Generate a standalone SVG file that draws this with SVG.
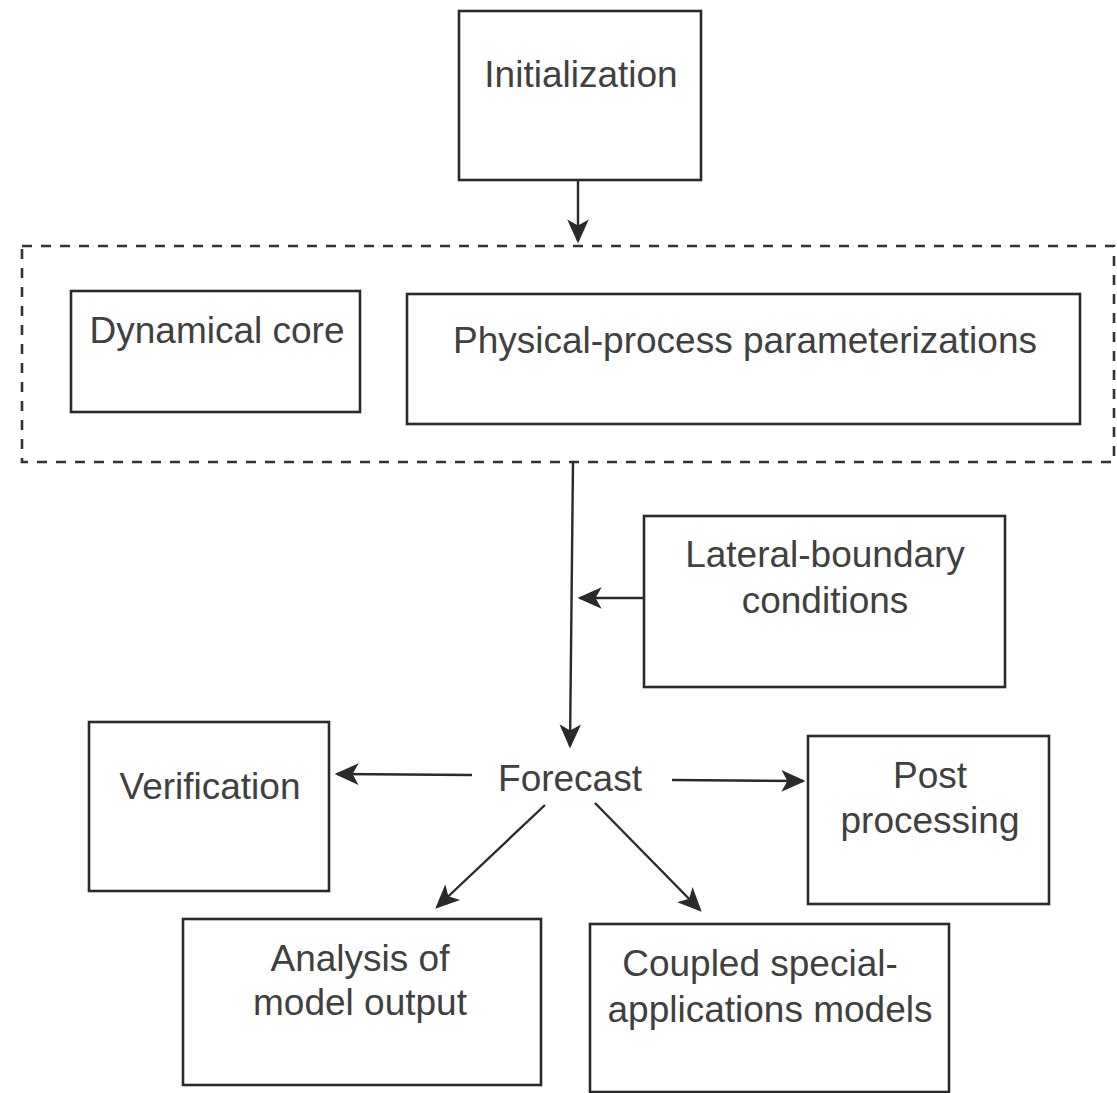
<svg xmlns="http://www.w3.org/2000/svg" width="1117" height="1093" viewBox="0 0 1117 1093">
<style>
.box{fill:none;stroke:#2a2a2a;stroke-width:2.6}
.t{font-family:"Liberation Sans",Arial,sans-serif;font-size:37px;fill:#404040;text-anchor:middle}
.c{stroke:#2a2a2a;stroke-width:2.4;fill:none}
</style>
<defs>
<marker id="ah2" viewBox="0 0 10 10" refX="9" refY="5" markerWidth="24" markerHeight="24" markerUnits="userSpaceOnUse" orient="auto">
<path d="M0,0.5 L10,5 L0,9.5 L2.5,5 Z" fill="#2a2a2a"/>
</marker>
</defs>
<rect width="1117" height="1093" fill="#fff"/>
<g id="group-dashed">
<rect x="22" y="246" width="1092" height="216" fill="none" stroke="#333" stroke-width="2.6" stroke-dasharray="10,9"/>
</g>
<g id="initialization">
<rect class="box" x="459" y="11" width="242" height="169"/>
<text class="t" x="581" y="87">Initialization</text>
</g>
<g id="dynamical-core">
<rect class="box" x="71" y="291" width="289" height="121"/>
<text class="t" x="217" y="343">Dynamical core</text>
</g>
<g id="physical">
<rect class="box" x="407" y="294" width="673" height="130"/>
<text class="t" x="745" y="353">Physical-process parameterizations</text>
</g>
<g id="lateral">
<rect class="box" x="644" y="516" width="361" height="171"/>
<text class="t" x="825" y="567">Lateral-boundary</text>
<text class="t" x="825" y="613">conditions</text>
</g>
<g id="forecast">
<text class="t" x="570" y="791">Forecast</text>
</g>
<g id="verification">
<rect class="box" x="89" y="722" width="240" height="169"/>
<text class="t" x="210" y="799">Verification</text>
</g>
<g id="post-processing">
<rect class="box" x="808" y="736" width="241" height="168"/>
<text class="t" x="930" y="788">Post</text>
<text class="t" x="930" y="833">processing</text>
</g>
<g id="analysis">
<rect class="box" x="183" y="919" width="358" height="166"/>
<text class="t" x="360" y="971">Analysis of</text>
<text class="t" x="360" y="1015">model output</text>
</g>
<g id="coupled">
<rect class="box" x="590" y="924" width="359" height="168"/>
<text class="t" x="760" y="976">Coupled special-</text>
<text class="t" x="770" y="1022">applications models</text>
</g>
<g id="connectors">
<line class="c" x1="578" y1="180" x2="578" y2="241" marker-end="url(#ah2)"/>
<line class="c" x1="573" y1="462" x2="570" y2="746" marker-end="url(#ah2)"/>
<line class="c" x1="643" y1="598" x2="580" y2="598" marker-end="url(#ah2)"/>
<line class="c" x1="472" y1="775" x2="337" y2="774" marker-end="url(#ah2)"/>
<line class="c" x1="672" y1="780" x2="803" y2="781" marker-end="url(#ah2)"/>
<line class="c" x1="545" y1="805" x2="437" y2="907" marker-end="url(#ah2)"/>
<line class="c" x1="595" y1="803" x2="700" y2="910" marker-end="url(#ah2)"/>
</g>
</svg>
